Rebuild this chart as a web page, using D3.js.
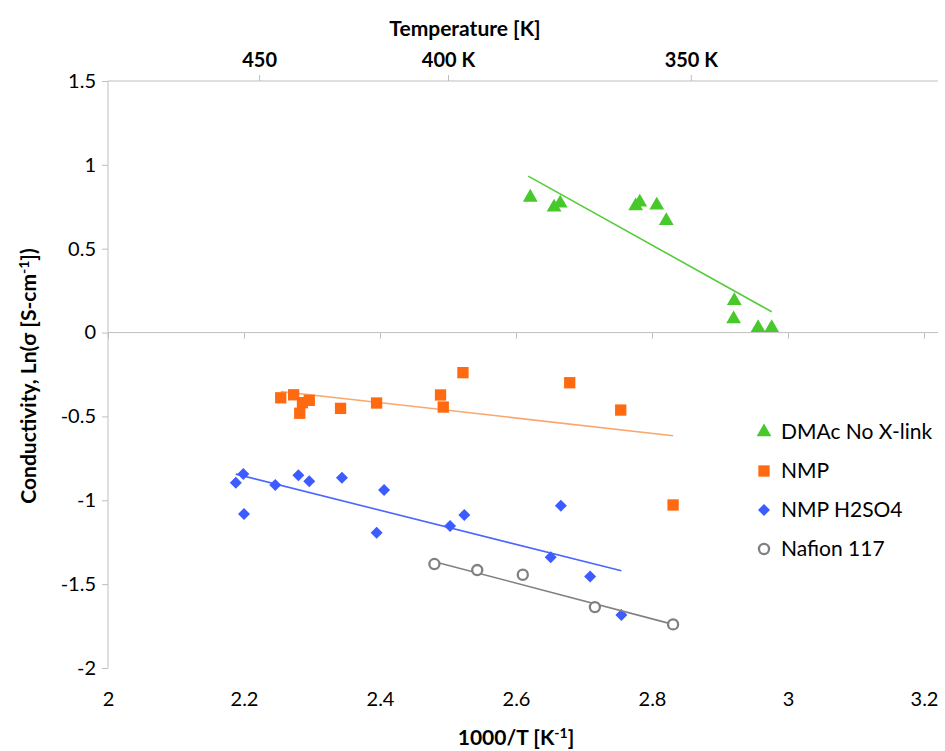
<!DOCTYPE html>
<html>
<head>
<meta charset="utf-8">
<script src="https://cdn.jsdelivr.net/npm/d3@7"></script>
<style>
  body { margin: 0; background: #fff; }
  svg text { font-family: Lato, "Open Sans", sans-serif; fill: #000; }
</style>
</head>
<body>
<div id="chart"></div>
<script>
// series: 1000/T [1/K] and ln(sigma)
var dmacX = [2.621, 2.656, 2.665, 2.776, 2.782, 2.807, 2.821, 2.921, 2.920, 2.956, 2.976]
var dmacY = [0.806, 0.747, 0.771, 0.755, 0.777, 0.759, 0.667, 0.190, 0.081, 0.029, 0.029]
var nmpX = [2.254, 2.273, 2.286, 2.296, 2.282, 2.342, 2.395, 2.489, 2.493, 2.522, 2.679, 2.754, 2.831]
var nmpY = [-0.389, -0.371, -0.418, -0.404, -0.481, -0.452, -0.420, -0.372, -0.444, -0.239, -0.299, -0.462, -1.028]
var h2so4X = [2.188, 2.199, 2.200, 2.246, 2.280, 2.296, 2.344, 2.406, 2.395, 2.503, 2.524, 2.666, 2.651, 2.709, 2.755]
var h2so4Y = [-0.895, -0.843, -1.082, -0.909, -0.851, -0.887, -0.865, -0.939, -1.193, -1.153, -1.088, -1.032, -1.340, -1.454, -1.684]
var nafionX = [2.480, 2.543, 2.610, 2.716, 2.831]
var nafionY = [-1.380, -1.416, -1.444, -1.637, -1.740]

// trend line end points (start, end)
var dmacTrendX = [2.618, 2.976], dmacTrendY = [0.933, 0.124]
var nmpTrendX = [2.254, 2.831], nmpTrendY = [-0.351, -0.615]
var h2so4TrendX = [2.188, 2.755], h2so4TrendY = [-0.844, -1.420]
var nafionTrendX = [2.480, 2.831], nafionTrendY = [-1.366, -1.740]

var xTicks = [2, 2.2, 2.4, 2.6, 2.8, 3, 3.2]
var yTicks = [-2, -1.5, -1, -0.5, 0, 0.5, 1, 1.5]
var tempTicks = [450, 400, 350]
var tempLabels = ["450", "400 K", "350 K"]

var series = [
    {name: "DMAc No X-link", xs: dmacX, ys: dmacY, tx: dmacTrendX, ty: dmacTrendY, shape: "triangle", color: "#47c82b", line: "#55cc3a"},
    {name: "NMP", xs: nmpX, ys: nmpY, tx: nmpTrendX, ty: nmpTrendY, shape: "square", color: "#ff6a10", line: "#fba66e"},
    {name: "NMP H2SO4", xs: h2so4X, ys: h2so4Y, tx: h2so4TrendX, ty: h2so4TrendY, shape: "diamond", color: "#3d5cff", line: "#4a66ff"},
    {name: "Nafion 117", xs: nafionX, ys: nafionY, tx: nafionTrendX, ty: nafionTrendY, shape: "circle", color: "#808080", line: "#808080"}
]

var width = 945, height = 751
var svg = d3.select("#chart").append("svg")
    .attr("width", width)
    .attr("height", height)

var x = d3.scaleLinear().domain([2, 3.2]).range([108, 924])
var y = d3.scaleLinear().domain([-2, 1.5]).range([668, 81])
var axisColor = "#bfbfbf"
var plotRight = 938

function styleAxis(g){
    g.select(".domain").remove()
    g.selectAll(".tick line").attr("stroke", axisColor)
}

// y axis
svg.append("g")
    .attr("transform", "translate(108,0)")
    .call(d3.axisLeft(y).tickValues(yTicks).tickSize(6).tickPadding(6).tickFormat(function(d){ return String(d) }))
    .call(styleAxis)
    .selectAll("text").attr("font-size", 20).attr("font-family", "Lato")
svg.append("line")
    .attr("x1", 108).attr("x2", 108).attr("y1", y(1.5)).attr("y2", y(-2))
    .attr("stroke", axisColor)

// x axis line at y = 0, labels at the bottom
svg.append("g")
    .attr("transform", "translate(0," + y(0) + ")")
    .call(d3.axisBottom(x).tickValues(xTicks).tickSize(6).tickFormat(""))
    .call(styleAxis)
svg.append("line")
    .attr("x1", 108).attr("x2", plotRight).attr("y1", y(0)).attr("y2", y(0))
    .attr("stroke", axisColor)
svg.append("g")
    .attr("transform", "translate(0,689)")
    .call(d3.axisBottom(x).tickValues(xTicks).tickSize(0).tickFormat(function(d){ return String(d) }))
    .call(styleAxis)
    .selectAll("text").attr("font-size", 20).attr("font-family", "Lato")

// secondary temperature axis on top
svg.append("g")
    .attr("transform", "translate(0," + y(1.5) + ")")
    .call(d3.axisTop(x).tickValues(tempTicks.map(function(t){ return 1000 / t })).tickSize(6).tickPadding(8)
        .tickFormat(function(d, i){ return tempLabels[i] }))
    .call(styleAxis)
    .selectAll("text").attr("font-size", 20).attr("font-weight", "bold").attr("font-family", "Lato")
svg.append("line")
    .attr("x1", 108).attr("x2", plotRight).attr("y1", y(1.5)).attr("y2", y(1.5))
    .attr("stroke", axisColor)

// axis titles
svg.append("text")
    .attr("x", 465).attr("y", 36)
    .attr("text-anchor", "middle")
    .attr("font-size", 21).attr("font-weight", "bold")
    .text("Temperature [K]")

var xt = svg.append("text")
    .attr("x", 516).attr("y", 745)
    .attr("text-anchor", "middle")
    .attr("font-size", 21).attr("font-weight", "bold")
xt.append("tspan").text("1000/T [K")
xt.append("tspan").attr("dy", -7).attr("font-size", 14).text("-1")
xt.append("tspan").attr("dy", 7).text("]")

var yt = svg.append("text")
    .attr("transform", "translate(36,376) rotate(-90)")
    .attr("text-anchor", "middle")
    .attr("font-size", 21).attr("font-weight", "bold")
yt.append("tspan").text("Conductivity, Ln(σ [S-cm")
yt.append("tspan").attr("dy", -7).attr("font-size", 14).text("-1")
yt.append("tspan").attr("dy", 7).text("])")

// markers
function symbolFor(shape){
    if (shape == "triangle") return d3.symbol().type(d3.symbolTriangle).size(95)
    if (shape == "square") return d3.symbol().type(d3.symbolSquare).size(128)
    if (shape == "diamond") return d3.symbol().type(d3.symbolSquare).size(72)
    return d3.symbol().type(d3.symbolCircle).size(80)
}

function drawMarker(sel, s){
    sel.attr("d", symbolFor(s.shape)())
    if (s.shape == "circle"){
        sel.attr("fill", "#fff").attr("stroke", s.color).attr("stroke-width", 2.3)
    } else {
        sel.attr("fill", s.color)
    }
}

series.forEach(function(s){
    // trend line
    svg.append("line")
        .attr("x1", x(s.tx[0])).attr("y1", y(s.ty[0]))
        .attr("x2", x(s.tx[1])).attr("y2", y(s.ty[1]))
        .attr("stroke", s.line).attr("stroke-width", 1.6)

    var pts = s.xs.map(function(v, i){ return [v, s.ys[i]] })
    svg.append("g").selectAll("path")
        .data(pts)
        .enter()
        .append("path")
        .attr("transform", function(d){
            var r = s.shape == "diamond" ? " rotate(45)" : ""
            return "translate(" + x(d[0]) + "," + y(d[1]) + ")" + r
        })
        .each(function(){ drawMarker(d3.select(this), s) })
})

// legend
var legend = svg.append("g").attr("transform", "translate(764,432)")
series.forEach(function(s, i){
    var row = legend.append("g").attr("transform", "translate(0," + (i * 39) + ")")
    var m = row.append("path")
    drawMarker(m, s)
    if (s.shape == "diamond") m.attr("transform", "rotate(45)")
    row.append("text")
        .attr("x", 17).attr("y", 7)
        .attr("font-size", 21)
        .text(s.name)
})
</script>
</body>
</html>
